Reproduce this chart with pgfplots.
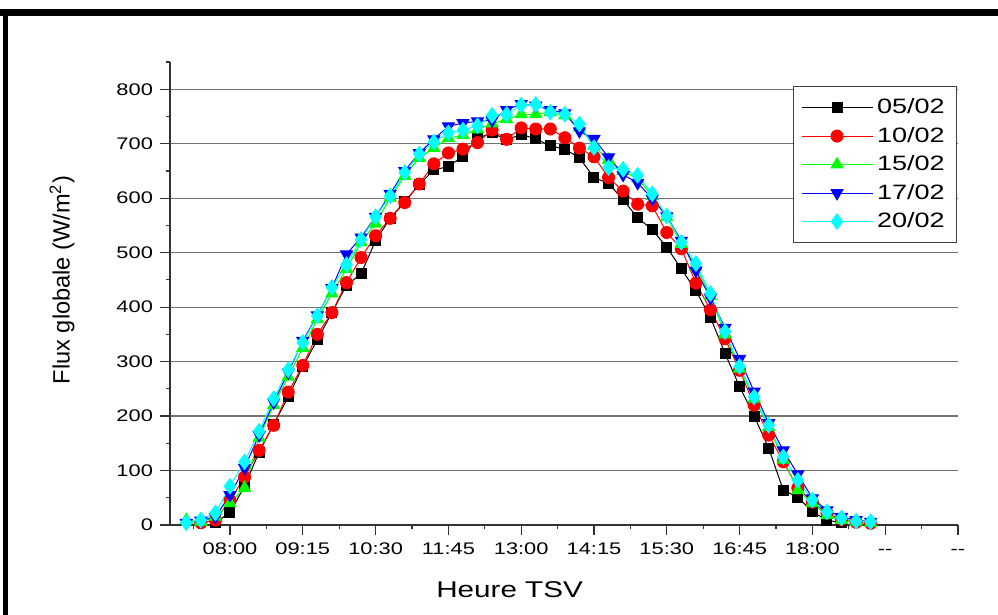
\documentclass[border=0pt]{standalone}
\usepackage{fontspec}
\setmainfont{Liberation Sans}
\newfontfamily\stretchfont[FakeStretch=1.3]{Liberation Sans}
\usepackage{pgfplots}
\pgfplotsset{compat=1.18}
\definecolor{cRed}{RGB}{255,0,0}
\definecolor{cGreen}{RGB}{0,255,0}
\definecolor{cBlue}{RGB}{0,0,255}
\definecolor{cCyan}{RGB}{0,255,255}
\begin{document}
\begin{tikzpicture}
\useasboundingbox (0,0) rectangle (499pt,307.5pt);
\fill[white] (0,0) rectangle (499pt,307.5pt);
\draw[line width=3.5pt] (0,301.25pt) -- (499pt,301.25pt);
\draw[line width=2.6pt] (2.8pt,0) -- (2.8pt,303pt);
\begin{axis}[
  at={(85pt,45pt)}, anchor=south west,
  scale only axis, width=394pt, height=231.5pt,
  xmin=6.97, xmax=20.5, ymin=0, ymax=850,
  axis x line*=bottom, axis y line*=left,
  axis line style={-, black!80, line width=0.6pt},
  xtick={8,9.25,10.5,11.75,13,14.25,15.5,16.75,18,19.25,20.5},
  xticklabels={08:00,09:15,10:30,11:45,13:00,14:15,15:30,16:45,18:00,--,--},
  minor xtick={7.375,8.625,9.875,11.125,12.375,13.625,14.875,16.125,17.375,18.625,19.875},
  ytick={0,100,...,800},
  minor ytick={50,150,...,850},
  tick align=outside,
  major tick length=5pt,
  minor tick length=2.2pt,
  every tick/.style={black!80, line width=0.6pt},
  ymajorgrids,
  major grid style={black!55, line width=0.6pt},
  /pgf/number format/assume math mode=true,
  ticklabel style={font=\stretchfont\fontsize{8.4}{10}\selectfont},
  xticklabel style={text height=6.1pt, text depth=0pt},
  xlabel={Heure TSV},
  ylabel={Flux globale (W/m\textsuperscript{2})},
  xlabel style={font=\stretchfont\fontsize{11.4}{13}\selectfont, at={(axis description cs:0.431,-0.14)}, anchor=center},
  ylabel style={font=\fontsize{11.8}{14}\selectfont, at={(axis description cs:-0.137,0.529)}, anchor=center},
  legend style={at={(rel axis cs:0.999,0.948)}, anchor=north east, draw=black!75, line width=0.5pt,
    font=\stretchfont\fontsize{10.4}{12}\selectfont, row sep=1.2pt, inner xsep=4pt, inner ysep=4pt},
  legend cell align=left,
  legend image code/.code={\draw[mark repeat=2,mark phase=2,#1] plot coordinates {(0pt,0pt) (17.75pt,0pt) (35.5pt,0pt)};},
  every axis plot/.append style={line width=0.5pt},
]
\addplot[black, mark=square*, mark size=2.5pt, mark options={solid}] coordinates {
(7.75,4) (8.0,23) (8.25,71) (8.5,134) (8.75,185) (9.0,235) (9.25,291) (9.5,340) (9.75,390) (10.0,440) (10.25,461) (10.5,522) (10.75,563) (11.0,594) (11.25,625) (11.5,652) (11.75,658) (12.0,677) (12.25,710) (12.5,720) (12.75,707) (13.0,717) (13.25,709) (13.5,696) (13.75,690) (14.0,674) (14.25,638) (14.5,627) (14.75,597) (15.0,564) (15.25,542) (15.5,510) (15.75,470) (16.0,430) (16.25,381) (16.5,315) (16.75,254) (17.0,200) (17.25,141) (17.5,64) (17.75,51) (18.0,24) (18.25,9) (18.5,4)};
\addlegendentry{05/02}
\addplot[cRed, mark=*, mark size=3pt] coordinates {
(7.5,4) (7.75,9) (8.0,45) (8.25,88) (8.5,137) (8.75,183) (9.0,244) (9.25,293) (9.5,350) (9.75,390) (10.0,445) (10.25,491) (10.5,531) (10.75,563) (11.0,592) (11.25,626) (11.5,663) (11.75,683) (12.0,690) (12.25,702) (12.5,725) (12.75,708) (13.0,729) (13.25,727) (13.5,727) (13.75,711) (14.0,692) (14.25,676) (14.5,638) (14.75,613) (15.0,589) (15.25,586) (15.5,537) (15.75,507) (16.0,444) (16.25,395) (16.5,342) (16.75,284) (17.0,220) (17.25,165) (17.5,116) (17.75,68) (18.0,42) (18.25,22) (18.5,10) (18.75,5) (19.0,3)};
\addlegendentry{10/02}
\addplot[cGreen, mark=triangle*, mark size=3.4pt] coordinates {
(7.25,9) (7.5,6) (7.75,15) (8.0,40) (8.25,68) (8.5,160) (8.75,220) (9.0,272) (9.25,325) (9.5,378) (9.75,425) (10.0,470) (10.25,519) (10.5,553) (10.75,601) (11.0,641) (11.25,674) (11.5,692) (11.75,710) (12.0,716) (12.25,726) (12.5,737) (12.75,745) (13.0,754) (13.25,754) (13.5,758) (13.75,752) (14.0,730) (14.25,696) (14.5,670) (14.75,650) (15.0,636) (15.25,604) (15.5,565) (15.75,516) (16.0,474) (16.25,420) (16.5,350) (16.75,287) (17.0,232) (17.25,180) (17.5,120) (17.75,64) (18.0,40) (18.25,18) (18.5,9) (18.75,6) (19.0,4)};
\addlegendentry{15/02}
\addplot[cBlue, mark=triangle*, mark size=3.4pt, mark options={rotate=180}] coordinates {
(7.25,4) (7.5,8) (7.75,15) (8.0,55) (8.25,105) (8.5,165) (8.75,225) (9.0,280) (9.25,338) (9.5,385) (9.75,435) (10.0,497) (10.25,528) (10.5,566) (10.75,608) (11.0,650) (11.25,683) (11.5,708) (11.75,732) (12.0,738) (12.25,741) (12.5,743) (12.75,762) (13.0,773) (13.25,770) (13.5,762) (13.75,756) (14.0,723) (14.25,709) (14.5,675) (14.75,643) (15.0,628) (15.25,599) (15.5,567) (15.75,522) (16.0,467) (16.25,417) (16.5,362) (16.75,305) (17.0,245) (17.25,187) (17.5,137) (17.75,93) (18.0,49) (18.25,27) (18.5,15) (18.75,9) (19.0,6)};
\addlegendentry{17/02}
\addplot[cCyan, mark=diamond*, mark size=3.8pt] coordinates {
(7.25,4) (7.5,9) (7.75,22) (8.0,71) (8.25,116) (8.5,172) (8.75,232) (9.0,285) (9.25,335) (9.5,384) (9.75,436) (10.0,478) (10.25,524) (10.5,566) (10.75,604) (11.0,647) (11.25,681) (11.5,703) (11.75,720) (12.0,725) (12.25,733) (12.5,752) (12.75,754) (13.0,771) (13.25,772) (13.5,758) (13.75,754) (14.0,736) (14.25,693) (14.5,656) (14.75,653) (15.0,642) (15.25,608) (15.5,567) (15.75,519) (16.0,480) (16.25,425) (16.5,355) (16.75,291) (17.0,235) (17.25,183) (17.5,125) (17.75,82) (18.0,46) (18.25,24) (18.5,13) (18.75,7) (19.0,6)};
\addlegendentry{20/02}
\end{axis}
\end{tikzpicture}
\end{document}
